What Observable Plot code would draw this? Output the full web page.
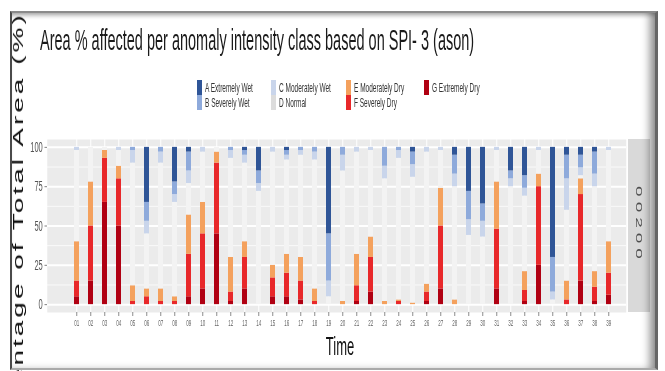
<!DOCTYPE html>
<html>
<head>
<meta charset="utf-8">
<script src="https://cdn.jsdelivr.net/npm/d3@7"></script>
<script src="https://cdn.jsdelivr.net/npm/@observablehq/plot@0.6"></script>
<style>
html, body { margin: 0; padding: 0; background: #fff; }
#page { position: relative; width: 665px; height: 371px; overflow: hidden; background: #fff;
  font-family: "Liberation Sans", Arial, sans-serif; }
#stage { position: absolute; left: 0; top: 0; width: 1330px; height: 371px;
  transform: scaleX(0.5); transform-origin: 0 0; }
#title { position: absolute; left: 80px; top: 26px; font-size: 29px; line-height: 29px;
  color: #1a1a1a; white-space: nowrap; }
.sw { position: absolute; width: 10px; height: 15px; }
.lt { position: absolute; font-size: 13px; line-height: 15px; color: #333; white-space: nowrap; }
#chart { position: absolute; left: 0; top: 130px; }
#ytitle { position: absolute; left: 36px; top: 233px; font-size: 28px; line-height: 28px;
  letter-spacing: 3px; color: #111; white-space: nowrap;
  transform: translate(-50%, -50%) rotate(-90deg); }
#xtitle { position: absolute; left: 680px; top: 333px; font-size: 26px; line-height: 26px;
  color: #111; transform: translateX(-50%); white-space: nowrap; }
#strip { position: absolute; left: 1256px; top: 139px; width: 44px; height: 173px; background: #d9d9d9; }
#striptext { position: absolute; left: 22px; top: 86px; font-size: 19px; line-height: 19px;
  letter-spacing: 5px; color: #4d4d4d; white-space: nowrap;
  transform: translate(-50%, -50%) rotate(90deg); }
#frame { position: absolute; left: 10px; top: 11px; width: 643px; height: 355px;
  border-left: 2px solid #4a4a4a; border-top: 2px solid #8a8a8a; border-right: 3px solid #666;
  border-bottom: 2px solid #aaa;
  box-shadow: inset -8px 0 8px -3px rgba(0,0,0,0.45), inset 0 5px 5px -3px rgba(0,0,0,0.3);
  pointer-events: none; }
</style>
</head>
<body>
<div id="page">
  <div id="stage">
    <div id="title">Area % affected per anomaly intensity class based on SPI- 3 (ason)</div>
    <div id="legend"></div>
    <div id="chart"></div>
    <div id="strip"><div id="striptext">00200</div></div>
    <div id="ytitle">Percentage of Total Area (%)</div>
    <div id="xtitle">Time</div>
  </div>
  <div id="frame"></div>
</div>
<script>
// ---- data ----
const categories = ["01","02","03","04","05","06","07","08","09","10","11","12","13","14","15","16","17","18","19","20",
  "21","22","23","24","25","26","27","28","29","30","31","32","33","34","35","36","37","38","39"];
const classes = ["A Extremely Wet","B Severely Wet","C Moderately Wet","D Normal","E Moderately Dry","F Severely Dry","G Extremely Dry"];
const classColors = ["#2f5597","#8eaadb","#c9d5eb","#f3f3f3","#f4a15d","#e8282a","#b00012"];
const extremelyWet  = [0,0,0,0,0,35,0,22,3,0,0,0,2,15,0,2,0,0,55,0,0,0,0,0,3,0,0,5,28,36,0,15,18,0,70,5,5,3,0];
const severelyWet   = [0,0,0,0,2,12,3,8,12,0,0,2,3,8,0,3,2,3,30,5,0,0,12,2,8,0,0,12,18,11,0,5,8,0,22,15,8,14,0];
const moderatelyWet = [2,0,0,2,8,8,7,5,8,3,0,5,5,5,3,3,3,5,10,10,3,2,8,5,8,3,2,8,10,10,2,5,5,2,5,20,5,8,2];
const normal        = [58,22,2,10,78,35,80,60,20,32,3,63,50,72,72,60,65,82,5,83,65,55,78,90,80,84,24,72,44,43,20,75,48,15,3,45,2,54,58];
const moderatelyDry = [25,28,5,8,10,5,8,3,25,20,7,22,10,0,8,12,15,8,0,2,20,13,2,1,1,5,24,3,0,0,30,0,12,8,0,12,10,10,20];
const severelyDry   = [10,35,28,30,2,5,2,2,27,35,45,6,20,0,12,15,12,2,0,0,10,22,0,2,0,6,40,0,0,0,38,0,7,50,0,3,55,9,14];
const extremelyDry  = [5,15,65,50,0,0,0,0,5,10,45,2,10,0,5,5,3,0,0,0,2,8,0,0,0,2,10,0,0,0,10,0,2,25,0,0,15,2,6];
const yTicks = [0, 25, 50, 75, 100];
const yMinor = [12.5, 37.5, 62.5, 87.5];
const facetLabel = "00200";

const series = [extremelyWet, severelyWet, moderatelyWet, normal, moderatelyDry, severelyDry, extremelyDry];
const stackOrder = classes.slice().reverse(); // G at the bottom, A at the top
const rows = [];
for (const cls of stackOrder) {
  const vals = series[classes.indexOf(cls)];
  categories.forEach((t, i) => rows.push({time: t, cls, value: vals[i]}));
}

// ---- legend (2 rows x 4 columns, like ggplot) ----
const legend = document.getElementById("legend");
const colX = [394, 542, 692, 848];
const rowY = [80, 95];
classes.forEach((c, i) => {
  const col = Math.floor(i / 2), row = i % 2;
  const sw = document.createElement("div");
  sw.className = "sw";
  sw.style.left = colX[col] + "px";
  sw.style.top = rowY[row] + "px";
  sw.style.background = classColors[i] === "#f3f3f3" ? "#dcdcdc" : classColors[i];
  legend.appendChild(sw);
  const lt = document.createElement("div");
  lt.className = "lt";
  lt.style.left = (colX[col] + 16) + "px";
  lt.style.top = rowY[row] + "px";
  lt.textContent = c;
  legend.appendChild(lt);
});
document.getElementById("striptext").textContent = facetLabel;

// ---- chart ----
const hasAxisMarks = typeof Plot.axisX === "function";
const marks = [
  Plot.frame({fill: "#ebebeb", stroke: null}),
  Plot.ruleY(yMinor, {stroke: "white", strokeWidth: 1}),
  Plot.ruleY(yTicks, {stroke: "white", strokeWidth: 2}),
  Plot.ruleX(categories, {stroke: "white", strokeWidth: 2}),
  Plot.barY(rows, {x: "time", y: "value", fill: "cls", order: stackOrder})
];
if (hasAxisMarks) {
  marks.push(
    Plot.axisX({tickSize: 4, tickPadding: 3, fontSize: 9, color: "#666", label: null}),
    Plot.axisY(yTicks, {tickSize: 5, tickPadding: 4, fontSize: 15, color: "#555", label: null})
  );
}
const chart = Plot.plot({
  width: 1330,
  height: 215,
  marginTop: 9,
  marginBottom: 33,
  marginLeft: 94,
  marginRight: 78,
  style: {background: "transparent", fontFamily: "Liberation Sans, Arial, sans-serif", overflow: "visible"},
  x: {type: "band", domain: categories, range: [127, 1243], paddingInner: 0.65, paddingOuter: 0.425,
      label: null, tickSize: 4, tickPadding: 3},
  y: {domain: [-5, 105], ticks: yTicks, label: null, tickSize: 5, tickPadding: 4},
  color: {domain: classes, range: classColors},
  marks
});
document.getElementById("chart").appendChild(chart);
</script>
</body>
</html>
